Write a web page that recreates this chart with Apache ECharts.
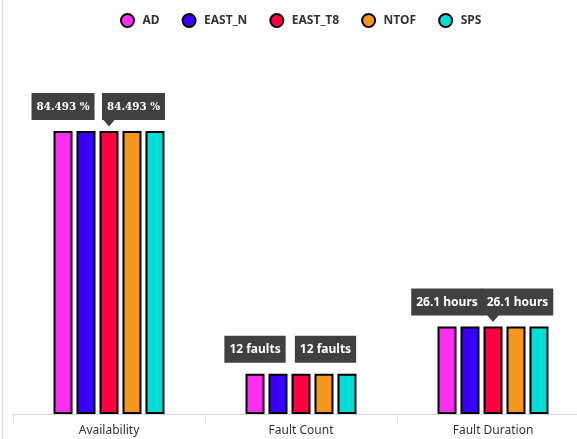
<!DOCTYPE html>
<html>
<head>
<meta charset="utf-8">
<script src="https://cdn.jsdelivr.net/npm/echarts@6/dist/echarts.min.js"></script>
<style>html,body{margin:0;padding:0;background:#fff}#c{width:577px;height:439px}</style>
</head>
<body>
<div id="c"></div>
<script>
var categories = ['Availability', 'Fault Count', 'Fault Duration'];
var seriesNames = ['AD', 'EAST_N', 'EAST_T8', 'NTOF', 'SPS'];
var seriesColors = ['#ff2ef0', '#3a00ff', '#ff0040', '#f7961e', '#00ddd5'];
var valuesAD = [84.493, 12, 26.1];
var valuesEAST_N = [84.493, 12, 26.1];
var valuesEAST_T8 = [84.493, 12, 26.1];
var valuesNTOF = [84.493, 12, 26.1];
var valuesSPS = [84.493, 12, 26.1];
var units = [' %', ' faults', ' hours'];
var arrowCategories = ['Availability', 'Fault Duration'];

var allValues = [valuesAD, valuesEAST_N, valuesEAST_T8, valuesNTOF, valuesSPS];

var labelStyle = {
  show: true,
  position: 'top',
  distance: 11,
  backgroundColor: '#404040',
  padding: [7, 5, 6, 5],
  formatter: function (p) {
    var key = p.dataIndex === 0 ? 's' : 'n';
    return '{' + key + '|' + p.value + units[p.dataIndex] + '}';
  },
  rich: {
    s: { fontFamily: 'DejaVu Serif Condensed', fontWeight: 'bold', fontSize: 11.5, color: '#fff', lineHeight: 14 },
    n: { fontFamily: 'Noto Sans', fontWeight: 'bold', fontSize: 12, color: '#fff', lineHeight: 14 }
  }
};

var series = seriesNames.map(function (name, i) {
  var s = {
    name: name,
    type: 'bar',
    barWidth: 19,
    barGap: '21%',
    data: allValues[i],
    itemStyle: { color: seriesColors[i], borderColor: '#000', borderWidth: 2 },
    label: { show: false }
  };
  if (i === 0) {
    s.label = labelStyle;
  }
  if (i === 2) {
    s.label = Object.assign({}, labelStyle, { offset: [24.5, 0] });
    s.markPoint = {
      symbol: 'triangle',
      symbolRotate: 180,
      symbolSize: [12, 7],
      symbolOffset: [0, -8],
      itemStyle: { color: '#404040', borderWidth: 0 },
      label: { show: false },
      silent: true,
      data: arrowCategories.map(function (c) {
        var idx = categories.indexOf(c);
        return { coord: [c, allValues[i][idx]] };
      })
    };
  }
  return s;
});

var chart = echarts.init(document.getElementById('c'));
chart.setOption({
  animation: false,
  color: seriesColors,
  legend: {
    data: seriesNames,
    left: 115,
    top: 8,
    icon: 'circle',
    itemWidth: 20,
    itemHeight: 13,
    itemGap: 22,
    textStyle: { fontFamily: 'Noto Sans', fontWeight: 'bold', fontSize: 12, color: '#333' }
  },
  grid: { left: 13, width: 576, top: 79, bottom: 25, outerBoundsMode: 'none', containLabel: false },
  xAxis: {
    type: 'category',
    data: categories,
    axisLine: { lineStyle: { color: '#d6dbea', width: 1 } },
    axisTick: { show: true, length: 10, lineStyle: { color: '#d6dbea' } },
    axisLabel: { margin: 11, color: '#333', fontFamily: 'Noto Sans', fontSize: 12 }
  },
  yAxis: {
    type: 'value',
    min: 0,
    max: 100,
    show: false,
    splitLine: { show: false }
  },
  graphic: [{
    type: 'line',
    shape: { x1: 2.5, y1: 0, x2: 2.5, y2: 439 },
    style: { stroke: '#e2e2e2', lineWidth: 1.5 },
    silent: true
  }],
  series: series
});
</script>
</body>
</html>
